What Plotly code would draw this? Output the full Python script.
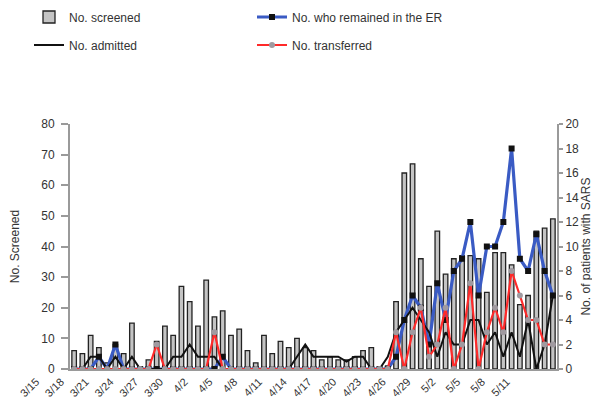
import pandas as pd
import plotly.graph_objects as go

dates = [f"{d.month}/{d.day}" for d in pd.date_range("2003-03-15", "2003-05-12")]
tick_labels = dates[::3]

screened = [6, 5, 11, 7, 2, 8, 5, 15, 0, 3, 9, 14, 11, 27, 22, 14, 29, 17, 19, 11,
            13, 6, 2, 11, 5, 9, 7, 10, 7, 6, 3, 4, 3, 3, 4, 6, 7, 0, 1, 22,
            64, 67, 36, 27, 45, 31, 36, 37, 37, 36, 25, 38, 38, 34, 21, 24, 45, 46, 49]
remained = [0, 0, 0, 1, 0, 2, 0, 0, 0, 0, 0, 0, 0, 0, 0, 0, 0, 0, 1, 0,
            0, 0, 0, 0, 0, 0, 0, 0, 0, 0, 0, 0, 0, 0, 0, 0, 0, 0, 0, 1,
            4, 6, 5, 2, 7, 4, 8, 9, 12, 6, 10, 10, 12, 18, 9, 8, 11, 8, 6]
admitted = [0, 0, 1, 1, 0, 1, 0, 1, 0, 0, 0, 0, 1, 1, 2, 1, 1, 1, 0, 0,
            0, 0, 0, 0, 0, 0, 0, 1, 2, 1, 1, 1, 1, 0.6, 1, 1, 0, 0, 1, 3,
            4, 5, 4, 3, 1, 3, 2, 2, 4, 4, 2, 3, 1, 3, 1, 4, 0, 2, 6]
transferred = [0, 0, 0, 0, 0, 0, 0, 0, 0, 0, 2, 0, 0, 0, 0, 0, 0, 3, 0, 0,
               0, 0, 0, 0, 0, 0, 0, 0, 0, 0, 0, 0, 0, 0, 0, 0, 0, 0, 0, 3,
               0, 3, 5, 1, 2, 5, 0, 2, 7, 0, 3, 5, 3, 8, 6, 4, 4, 2, 2]

FONT = "Liberation Sans, Arial, sans-serif"

fig = go.Figure()
fig.add_trace(go.Bar(
    x=dates, y=screened, name="No. screened",
    marker=dict(color="#c4c4c4", line=dict(color="#222222", width=1.3)),
    legend="legend", yaxis="y"))
fig.add_trace(go.Scatter(
    x=dates, y=remained, name="No. who remained in the ER", mode="lines+markers",
    line=dict(color="#3a5bc4", width=3.2),
    marker=dict(symbol="square", size=6, color="#111111"),
    legend="legend", yaxis="y2"))
fig.add_trace(go.Scatter(
    x=dates, y=admitted, name="No. admitted", mode="lines",
    line=dict(color="#111111", width=2),
    legend="legend2", yaxis="y2"))
fig.add_trace(go.Scatter(
    x=dates, y=transferred, name="No. transferred", mode="lines+markers",
    line=dict(color="#ff2a2a", width=2.2),
    marker=dict(symbol="circle", size=6, color="#a09aa0"),
    legend="legend2", yaxis="y2"))

legend_common = dict(
    orientation="h", xref="container", yref="container", xanchor="left", yanchor="middle",
    entrywidth=178, entrywidthmode="pixels", font=dict(family=FONT, size=12, color="#333333"),
    bgcolor="rgba(0,0,0,0)", itemwidth=30, traceorder="normal")

fig.update_layout(
    width=600, height=403,
    margin=dict(l=62, r=51, t=116, b=42, autoexpand=False),
    paper_bgcolor="white", plot_bgcolor="white",
    bargap=0.45, showlegend=True,
    font=dict(family=FONT, size=12, color="#333333"),
    legend=dict(x=0.035, y=1 - 9 / 403, **legend_common),
    legend2=dict(x=0.035, y=1 - 37 / 403, **legend_common),
    xaxis=dict(
        type="category", tickmode="array", tickvals=tick_labels, ticktext=tick_labels,
        tickangle=-45, showline=True, linecolor="#9a9a9a", linewidth=2,
        ticks="", showgrid=False, tickfont=dict(size=11, color="#333333"),
        ticklabelshift=-38, automargin=False, range=[-0.5, len(dates) - 0.5]),
    yaxis=dict(
        range=[0, 80], dtick=10, showline=True, linecolor="#9a9a9a", linewidth=2,
        ticks="outside", ticklen=7, tickcolor="#9a9a9a", tickwidth=2, showgrid=False,
        zeroline=False, ticklabelstandoff=4, automargin=False,
        title=dict(text="No. Screened", font=dict(size=12), standoff=20),
        tickfont=dict(size=12)),
    yaxis2=dict(
        range=[0, 20], dtick=2, overlaying="y", side="right", showline=True,
        linecolor="#9a9a9a", linewidth=2, ticks="outside", ticklen=4, tickcolor="#9a9a9a",
        tickwidth=2, showgrid=False, zeroline=False, automargin=False,
        title=dict(text="No. of patients with SARS", font=dict(size=12), standoff=1),
        tickfont=dict(size=12)),
)

fig.write_html("out.html")
